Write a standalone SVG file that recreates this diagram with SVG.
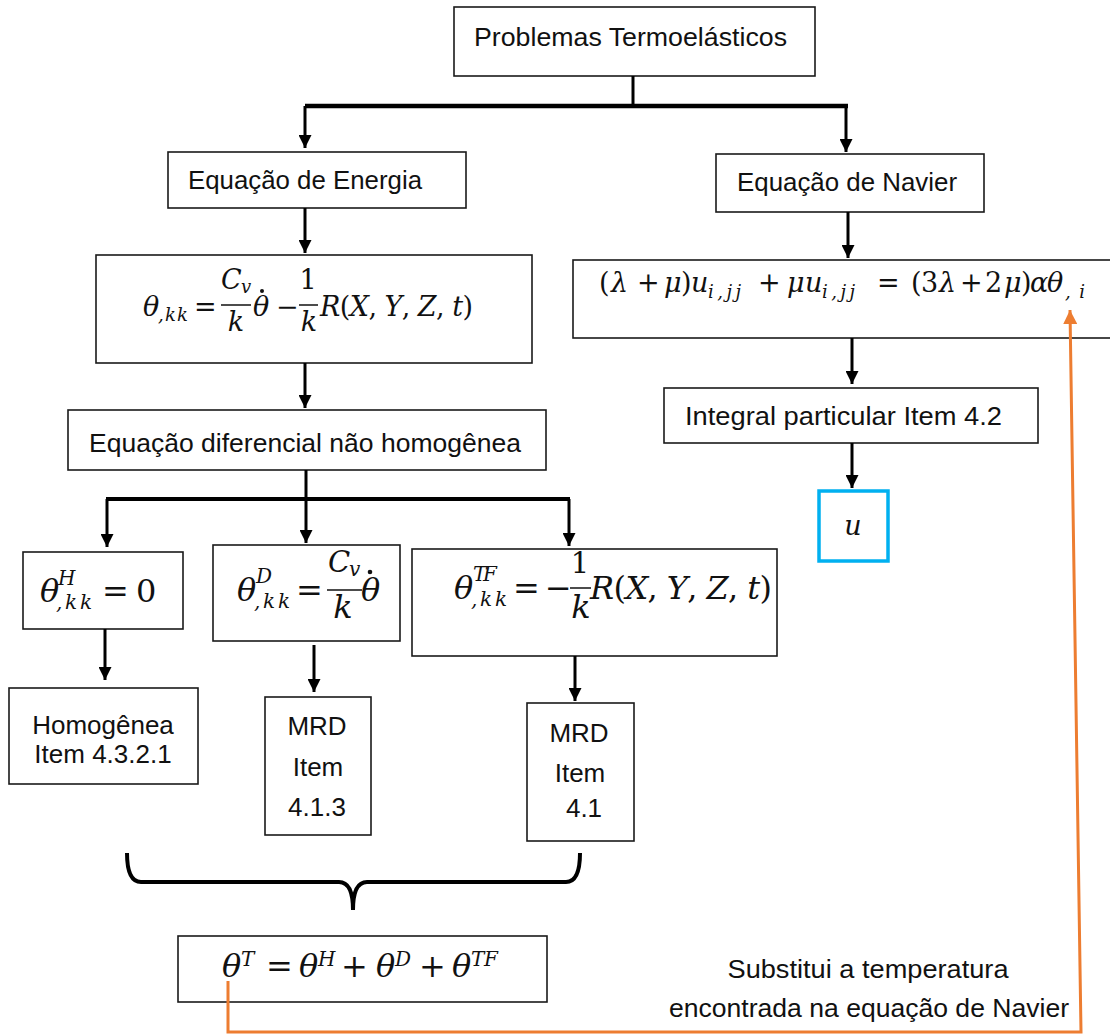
<svg xmlns="http://www.w3.org/2000/svg" width="1110" height="1034" viewBox="0 0 1110 1034">
<defs>
<style>
.box{fill:#fff;stroke:#1a1a1a;stroke-width:1.6}
.t{font-family:"Liberation Sans",Arial,sans-serif;font-size:26px;fill:#111}
.mi{font-family:"DejaVu Serif","Liberation Serif",serif;font-style:italic;fill:#111}
.mo{font-family:"DejaVu Serif","Liberation Serif",serif;font-style:normal;fill:#111}
.c{stroke:#000;stroke-width:3;fill:none}
.bar{stroke:#111;stroke-width:1.5}
.dot{fill:#111}
.f26{font-size:27px}
.f31{font-size:32px}
.n28{font-size:29px}
.s18{font-size:18px}
.s20{font-size:20px}
.s17{font-size:18px}
</style>
<marker id="ah" viewBox="0 0 10 10" refX="10" refY="5" markerUnits="userSpaceOnUse" markerWidth="13" markerHeight="13" orient="auto"><path d="M0,0 L10,5 L0,10 z" fill="#000"/></marker>
<marker id="aho" viewBox="0 0 10 10" refX="10" refY="5" markerUnits="userSpaceOnUse" markerWidth="14" markerHeight="14" orient="auto"><path d="M0,0 L10,5 L0,10 z" fill="#ED7D31"/></marker>
</defs>
<rect width="1110" height="1034" fill="#fff"/>

<g id="n-problemas">
<rect class="box" x="454" y="7" width="361" height="69"/>
<text class="t" x="474" y="46" textLength="313" lengthAdjust="spacingAndGlyphs">Problemas Termoelásticos</text>
</g>

<g id="n-energia">
<rect class="box" x="168" y="152" width="298" height="56"/>
<text class="t" x="188" y="189" textLength="234" lengthAdjust="spacingAndGlyphs">Equação de Energia</text>
</g>

<g id="n-navier">
<rect class="box" x="716" y="154" width="268" height="58"/>
<text class="t" x="737" y="191" textLength="220" lengthAdjust="spacingAndGlyphs">Equação de Navier</text>
</g>

<g id="n-eq-energia">
<rect class="box" x="96" y="255" width="436" height="108"/>
<text class="mi f26" x="143" y="316">θ</text>
<text class="mi s18" x="158" y="321" textLength="30" lengthAdjust="spacing">,kk</text>
<text class="mo f26" x="194" y="316">=</text>
<text class="mi f26" x="221" y="289">C</text>
<text class="mi s18" x="241" y="293">v</text>
<line class="bar" x1="221" y1="305" x2="251" y2="305"/>
<text class="mi f26" x="236" y="331" text-anchor="middle">k</text>
<text class="mi f26" x="253" y="316">θ</text>
<circle class="dot" cx="262" cy="291" r="2"/>
<text class="mo f26" x="276" y="316">−</text>
<text class="mo f26" x="308" y="289" text-anchor="middle">1</text>
<line class="bar" x1="299" y1="305" x2="318" y2="305"/>
<text class="mi f26" x="309" y="331" text-anchor="middle">k</text>
<text class="mi f26" x="320" y="316" textLength="153" lengthAdjust="spacing">R<tspan class="mo">(</tspan>X<tspan class="mo">, </tspan>Y<tspan class="mo">, </tspan>Z<tspan class="mo">, </tspan>t<tspan class="mo">)</tspan></text>
</g>

<g id="n-eq-navier">
<rect class="box" x="573" y="260" width="545" height="78"/>
<text class="mo f26" x="599" y="292">(</text>
<text class="mi f26" x="611" y="292">λ</text>
<text class="mo f26" x="637" y="292">+</text>
<text class="mi f26" x="664" y="292">μ</text>
<text class="mo f26" x="681" y="292">)</text>
<text class="mi f26" x="691" y="292">u</text>
<text class="mi s17" x="708" y="298" textLength="33" lengthAdjust="spacing">i,jj</text>
<text class="mo f26" x="758" y="292">+</text>
<text class="mi f26" x="787" y="292">μ</text>
<text class="mi f26" x="805" y="292">u</text>
<text class="mi s17" x="822" y="298" textLength="33" lengthAdjust="spacing">i,jj</text>
<text class="mo f26" x="877" y="292">=</text>
<text class="mo f26" x="911" y="292">(</text>
<text class="mo f26" x="921" y="292">3</text>
<text class="mi f26" x="939" y="292">λ</text>
<text class="mo f26" x="960" y="292">+</text>
<text class="mo f26" x="985" y="292">2</text>
<text class="mi f26" x="1004" y="292">μ</text>
<text class="mo f26" x="1021" y="292">)</text>
<text class="mi f26" x="1030" y="292">α</text>
<text class="mi f26" x="1047" y="292">θ</text>
<text class="mi s17" x="1065" y="298" textLength="20" lengthAdjust="spacing">,i</text>
</g>

<g id="n-integral">
<rect class="box" x="664" y="388" width="374" height="55"/>
<text class="t" x="685" y="425" textLength="317" lengthAdjust="spacingAndGlyphs">Integral particular Item 4.2</text>
</g>

<g id="n-u">
<rect x="819" y="491" width="69" height="70" fill="#fff" stroke="#00B0F0" stroke-width="3.5"/>
<text class="mi f26" x="853" y="535" text-anchor="middle">u</text>
</g>

<g id="n-diferencial">
<rect class="box" x="68" y="410" width="478" height="60"/>
<text class="t" x="89" y="452" textLength="432" lengthAdjust="spacingAndGlyphs">Equação diferencial não homogênea</text>
</g>

<g id="n-thetaH">
<rect class="box" x="23" y="552" width="160" height="77"/>
<text class="mi f31" x="40" y="602">θ</text>
<text class="mi s20" x="58" y="585">H</text>
<text class="mi s20" x="56" y="609" textLength="36" lengthAdjust="spacing">,kk</text>
<text class="mo f31" x="102" y="602">=</text>
<text class="mo f31" x="136" y="602">0</text>
</g>

<g id="n-thetaD">
<rect class="box" x="213" y="545" width="187" height="96"/>
<text class="mi f31" x="237" y="601">θ</text>
<text class="mi s20" x="256" y="583">D</text>
<text class="mi s20" x="254" y="608" textLength="36" lengthAdjust="spacing">,kk</text>
<text class="mo f31" x="296" y="601">=</text>
<text class="mi n28" x="328" y="572">C</text>
<text class="mi s20" x="349" y="576">v</text>
<line class="bar" x1="327" y1="590" x2="362" y2="590"/>
<text class="mi f31" x="343" y="618" text-anchor="middle">k</text>
<text class="mi f31" x="361" y="601">θ</text>
<circle class="dot" cx="370" cy="572" r="2.3"/>
</g>

<g id="n-thetaTF">
<rect class="box" x="412" y="549" width="365" height="107"/>
<text class="mi f31" x="454" y="599">θ</text>
<text class="mi s20" x="473" y="581" textLength="24" lengthAdjust="spacing">TF</text>
<text class="mi s20" x="471" y="606" textLength="36" lengthAdjust="spacing">,kk</text>
<text class="mo f31" x="513" y="599">=</text>
<text class="mo f31" x="545" y="599">−</text>
<text class="mo n28" x="580" y="573" text-anchor="middle">1</text>
<line class="bar" x1="570" y1="588" x2="591" y2="588"/>
<text class="mi f31" x="581" y="618" text-anchor="middle">k</text>
<text class="mi f31" x="590" y="599" textLength="182" lengthAdjust="spacing">R<tspan class="mo">(</tspan>X<tspan class="mo">, </tspan>Y<tspan class="mo">, </tspan>Z<tspan class="mo">, </tspan>t<tspan class="mo">)</tspan></text>
</g>

<g id="n-homogenea">
<rect class="box" x="9" y="688" width="189" height="96"/>
<text class="t" x="103" y="734" text-anchor="middle">Homogênea</text>
<text class="t" x="103" y="763" text-anchor="middle">Item 4.3.2.1</text>
</g>

<g id="n-mrd1">
<rect class="box" x="265" y="697" width="106" height="138"/>
<text class="t" x="317" y="735" text-anchor="middle">MRD</text>
<text class="t" x="318" y="776" text-anchor="middle">Item</text>
<text class="t" x="317" y="816" text-anchor="middle">4.1.3</text>
</g>

<g id="n-mrd2">
<rect class="box" x="527" y="703" width="107" height="138"/>
<text class="t" x="579" y="742" text-anchor="middle">MRD</text>
<text class="t" x="580" y="782" text-anchor="middle">Item</text>
<text class="t" x="584" y="817" text-anchor="middle">4.1</text>
</g>

<g id="n-thetaT">
<rect class="box" x="178" y="936" width="369" height="66"/>
<text class="mi f31" x="222" y="977">θ</text>
<text class="mi s20" x="241" y="966">T</text>
<text class="mo f31" x="266" y="977">=</text>
<text class="mi f31" x="299" y="977">θ</text>
<text class="mi s20" x="318" y="966">H</text>
<text class="mo f31" x="341" y="977">+</text>
<text class="mi f31" x="376" y="977">θ</text>
<text class="mi s20" x="395" y="966">D</text>
<text class="mo f31" x="419" y="977">+</text>
<text class="mi f31" x="452" y="977">θ</text>
<text class="mi s20" x="471" y="966" textLength="27" lengthAdjust="spacing">TF</text>
</g>

<g id="label-substitui">
<text class="t" x="868" y="978" text-anchor="middle" textLength="281" lengthAdjust="spacingAndGlyphs">Substitui a temperatura</text>
<text class="t" x="869" y="1017" text-anchor="middle" textLength="400" lengthAdjust="spacingAndGlyphs">encontrada na equação de Navier</text>
</g>

<g id="connectors">
<path class="c" d="M633,76 V106"/>
<path d="M305,106 H848" stroke="#000" stroke-width="4.5" fill="none"/>
<path class="c" d="M305,106 V148" marker-end="url(#ah)"/>
<path class="c" d="M846,106 V152" marker-end="url(#ah)"/>
<path class="c" d="M305,208 V253" marker-end="url(#ah)"/>
<path class="c" d="M848,212 V258" marker-end="url(#ah)"/>
<path class="c" d="M305,363 V408" marker-end="url(#ah)"/>
<path class="c" d="M852,338 V384" marker-end="url(#ah)"/>
<path class="c" d="M852,443 V488" marker-end="url(#ah)"/>
<path class="c" d="M306,470 V499"/>
<path d="M106,499 H570" stroke="#000" stroke-width="4" fill="none"/>
<path class="c" d="M107,499 V547" marker-end="url(#ah)"/>
<path class="c" d="M306,499 V543" marker-end="url(#ah)"/>
<path class="c" d="M569,499 V546" marker-end="url(#ah)"/>
<path class="c" d="M105,629 V680" marker-end="url(#ah)"/>
<path class="c" d="M314,645 V692" marker-end="url(#ah)"/>
<path class="c" d="M575,656 V701" marker-end="url(#ah)"/>
<path d="M127,853 Q127,882 141,882 H339 Q353,882 353,910 Q353,882 367,882 H566 Q580,882 580,853" stroke="#000" stroke-width="4" fill="none"/>
<path d="M228,981 V1032 H1081 L1070,310" stroke="#ED7D31" stroke-width="3" fill="none" marker-end="url(#aho)"/>
</g>
</svg>
